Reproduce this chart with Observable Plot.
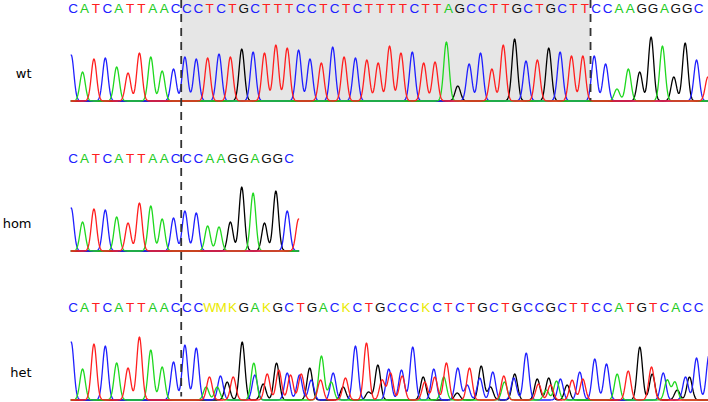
<!DOCTYPE html>
<html>
<head>
<meta charset="utf-8">
<script src="https://cdn.jsdelivr.net/npm/d3@7"></script>
<script src="https://cdn.jsdelivr.net/npm/@observablehq/plot@0.6"></script>
<style>
  html, body { margin: 0; padding: 0; background: #fff; }
  #chart svg { display: block; }
</style>
</head>
<body>
<div id="chart"></div>
<script>
// ---------------- DATA ----------------
const trackNames = ["wt", "hom", "het"];

// called sequences (one letter per base position 0,1,2,...)
const wtSeq  = "CATCATTAACCCTCTGCTTTCCTCTCTTTTCTTAGCCTTGCTGCTTCCAAGGAGGC";
const homSeq = "CATCATTAACCCAAGGAGGC";
const hetSeq = "CATCATTAACCCWMKGAKGCTGACKCTGCCCKCTCTGCTGCCGCTTCCATGTCACC";

// peak heights of the called bases (signal units)
const wtHeights = [46,29,42,43,34,28,48,44,30,32, 44,42,43,47,44,52,49,48,56,53,
                   51,42,38,54,44,43,41,38,55,48, 49,38,39,59,15,37,48,32,56,62,
                   40,41,53,49,45,45,45,37,12,32, 29,64,55,24,58,41];
const homHeights = [43,29,42,41,34,28,48,45,32,33, 40,38,25,24,29,64,58,28,60,40];

// extra peaks past the last called base: [base, position, height]
const wtExtra  = [["T", 56, 24]];
const homExtra = [["T", 20, 32]];

// het: clean start, then the mixed (double) peaks [base, position, height]
const hetCleanHeights = [58,31,56,54,37,32,63,50,33,38,55,52];
const hetMixedPeaks = [
  ["A",11.87,13],["T",12.16,23],["A",12.84,13],["C",13.13,24],["G",13.72,18],["T",14.25,23],
  ["G",15.04,58],["A",16.06,37],["C",16.15,25],["G",16.89,16],["T",17.24,26],
  ["G",18.06,37],["T",18.26,30],["C",19.0,27],["T",19.29,25],["C",20.08,25],["T",20.23,26],
  ["G",20.98,32],["C",21.11,20],["T",21.93,20],["A",22.01,44],["A",22.87,18],["C",23.04,27],
  ["G",23.92,13],["T",24.12,22],["C",25.0,54],["T",25.97,57],["G",26.15,8],
  ["G",26.97,35],["T",27.35,20],["C",27.93,31],["T",28.08,27],["C",29.05,30],["T",29.11,24],
  ["C",30.04,53],["G",30.96,23],["T",31.1,18],["C",31.89,31],["T",31.98,23],
  ["A",32.77,23],["T",33.0,37],["G",33.95,7],["C",34.0,32],["C",34.83,15],["T",35.03,32],
  ["C",35.94,22],["G",36.06,34],["G",36.88,13],["C",37.08,28],["T",38.05,24],["A",38.11,18],
  ["C",38.93,22],["G",39.01,26],["C",40.02,47],["G",40.99,21],["T",41.1,16],
  ["A",41.78,10],["G",42.0,22],["T",42.16,15],["A",42.68,19],["C",43.03,21],
  ["G",43.62,15],["T",44.06,20],["C",44.73,28],["T",45.0,21],["C",46.05,41],["C",47.08,36],
  ["A",48.02,26],["T",48.99,29],["G",50.01,53],["T",51.04,33],["G",51.1,26],
  ["C",52.07,27],["A",52.42,20],["A",53.1,18],["G",53.3,10],["C",54.03,23],["G",54.38,23],
  ["C",55.0,42],["C",56.1,45]
];

// deleted region in wt (between base positions)
const deletion = [9.5, 45.5];

// ---------------- STYLE / LAYOUT ----------------
const W = 708, H = 402;
const origin = 70.7, step = 11.37;            // first base pixel, pixels per base
const rowBase = k => Math.round(101 + 149.5 * k) - 0.5;   // baseline of each track (px)
const traceEnd = {wt: (W - origin) / step, hom: 20, het: (W - origin) / step};
const sigma = 0.235;
const baseColor = {A: "#1fd81f", C: "#1f1fff", G: "#000000", T: "#ff1f1f"};
const letterColor = {A: "#22cc22", C: "#2020ff", G: "#111111", T: "#ff2020"};
const ambColor = "#eaea00";
const drawOrder = ["G", "C", "A", "T"];

// ---------------- BUILD ----------------
function peaksFrom(seq, heights, extra) {
  const p = heights.map((h, i) => [seq[i], i, h]);
  return p.concat(extra);
}
const tracks = {
  wt: peaksFrom(wtSeq, wtHeights, wtExtra),
  hom: peaksFrom(homSeq, homHeights, homExtra),
  het: hetCleanHeights.map((h, i) => [hetSeq[i], i, h]).concat(hetMixedPeaks)
};
const seqs = {wt: wtSeq, hom: homSeq, het: hetSeq};

const traceMarks = [];
trackNames.forEach((name, k) => {
  const peaks = tracks[name];
  const b = rowBase(k);
  for (const base of drawOrder) {
    const ps = peaks.filter(p => p[0] === base);
    const pts = [];
    for (let t = 0; t <= traceEnd[name] + 1e-9; t += 0.04) {
      let v = 0;
      for (const p of ps) {
        const d = t - p[1];
        if (Math.abs(d) < 2) v += p[2] * Math.exp(-d * d / (2 * sigma * sigma));
      }
      pts.push({t, y: b - v});
    }
    traceMarks.push(Plot.line(pts, {x: "t", y: "y", stroke: baseColor[base], strokeWidth: 1.3}));
  }
});

const letters = [];
trackNames.forEach((name, k) => {
  const s = seqs[name];
  for (let i = 0; i < s.length; i++) {
    const c = s[i];
    letters.push({pos: i, y: rowBase(k) - 92, c, fill: letterColor[c] || ambColor});
  }
});
const labels = trackNames.map((name, k) => ({name, y: rowBase(k) - 27}));

const chart = Plot.plot({
  width: W, height: H,
  margin: 0,
  x: {domain: [-origin / step, (W - origin) / step], axis: null},
  y: {domain: [H, 0], axis: null},
  marks: [
    Plot.rect([deletion], {x1: d => d[0], x2: d => d[1], y1: () => 0, y2: () => rowBase(0), fill: "#e6e6e6", dx: 2}),
    ...traceMarks,
    Plot.ruleX([deletion[0]], {x: d => d, y1: () => 0, y2: () => rowBase(2) - 3, stroke: "#333", strokeWidth: 1.8, strokeDasharray: "8,6", dx: 2}),
    Plot.ruleX([deletion[1]], {x: d => d, y1: () => 0, y2: () => rowBase(0), stroke: "#333", strokeWidth: 1.8, strokeDasharray: "8,6", dx: 2}),
    Plot.text(letters, {x: "pos", y: "y", text: "c", fill: "fill", fontSize: 13.5, fontFamily: "Liberation Sans, Arial, sans-serif", dx: 2}),
    Plot.text(labels, {frameAnchor: "left", y: "y", text: "name", textAnchor: "end", dx: 31, fontSize: 13, fontFamily: "DejaVu Sans, sans-serif", fill: "#000"})
  ]
});
document.getElementById("chart").appendChild(chart);
</script>
</body>
</html>
